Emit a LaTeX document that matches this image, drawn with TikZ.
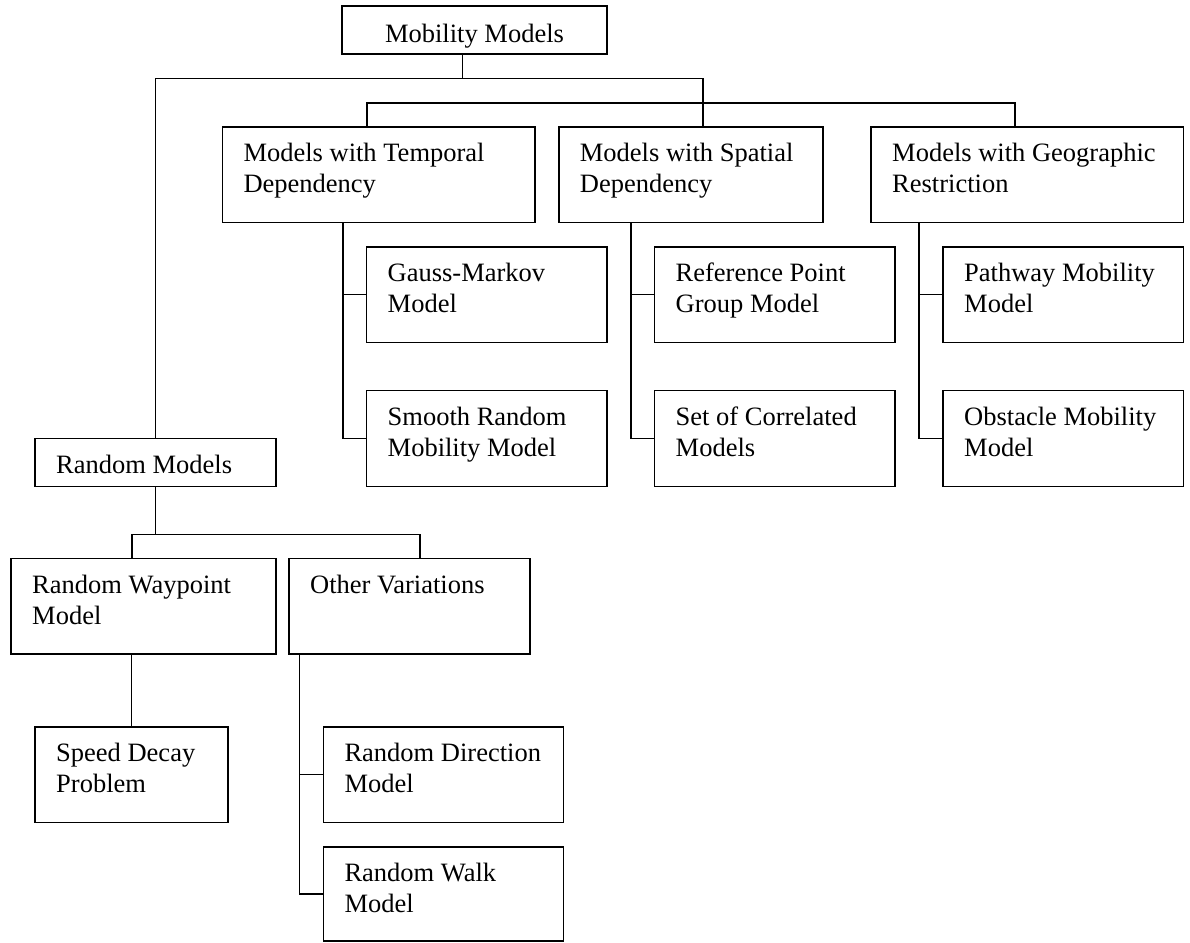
\documentclass[tikz,border=0pt]{standalone}
\usepackage{fontspec}
\setmainfont{Liberation Serif}

% Box drawn from its corners (x1,y1)-(x2,y2), with its caption set at the top left;
% the caption's base anchor is the baseline of its first line
\newcommand\modelbox[6]{%
  \node[box, minimum width={(#4-#2)*1pt}, minimum height={(#5-#3)*1pt}] (#1) at (#2,#3) {};
  \node[lbl] (#1-t) at ([shift={(21pt,-35pt)}]#1.north west)
    {\begin{tabular}[t]{@{}l@{}}#6\end{tabular}};}

\tikzset{
  box/.style={draw, rectangle, line width=1.6pt, inner sep=0pt, outer sep=0pt, anchor=north west},
  lbl/.style={font=\fontsize{26.5}{31}\selectfont, inner sep=0pt, anchor=base west},
  link/.style={line width=1.6pt},
}

\begin{document}
\begin{tikzpicture}[x=1pt,y=-1pt]
\useasboundingbox (0,0) rectangle (1190,942);
\fill[white] (0,0) rectangle (1190,942);

% root
\node[box, minimum width=265pt, minimum height=48pt] (mob) at (342,6) {};
\node[font=\fontsize{26.5}{31}\selectfont, inner sep=0pt, anchor=base] (mob-t)
  at ([yshift=-36pt]mob.north) {Mobility Models};

% dependency / restriction families
\modelbox{temp}{222.3}{126.7}{535}{222.3}{Models with Temporal\\Dependency}
\modelbox{spat}{558.7}{126.7}{823}{222.3}{Models with Spatial\\Dependency}
\modelbox{geo}{871}{126.7}{1183.3}{222.3}{Models with Geographic\\Restriction}

\modelbox{gauss}{366.5}{246.7}{607}{342.3}{Gauss-Markov\\Model}
\modelbox{smooth}{366.5}{390.5}{607}{486.3}{Smooth Random\\Mobility Model}
\modelbox{refpt}{654.5}{246.7}{895}{342.3}{Reference Point\\Group Model}
\modelbox{corr}{654.5}{390.5}{895}{486.3}{Set of Correlated\\Models}
\modelbox{path}{943}{246.7}{1183.3}{342.3}{Pathway Mobility\\Model}
\modelbox{obst}{943}{390.5}{1183.3}{486.3}{Obstacle Mobility\\Model}

% random family
\modelbox{rnd}{35}{438.3}{275.7}{486.3}{Random Models}
\modelbox{wp}{11}{558.5}{275.7}{654.2}{Random Waypoint\\Model}
\modelbox{other}{289}{558.5}{529.7}{654.2}{Other Variations}
\modelbox{speed}{35}{726.7}{227.7}{822.5}{Speed Decay\\Problem}
\modelbox{rdir}{323.3}{726.7}{563.3}{822.3}{Random Direction\\Model}
\modelbox{rwalk}{323.3}{846.7}{563.3}{940.8}{Random Walk\\Model}

% top rails
\coordinate (h1) at (462.3,78.3);
\coordinate (h1r) at (702.7,78.3);
\coordinate (h2l) at (366.7,102.7);
\coordinate (h2r) at (1015,102.7);
\draw[link] (mob.south -| h1) -- (h1);
\draw[link] (rnd.north) |- (h1r) -- (h1r |- spat.north);
\draw[link] (temp.north -| h2l) |- (h2r) -- (h2r |- geo.north);

% family branches
\coordinate (tv) at (342.7,0);
\coordinate (sv) at (631,0);
\coordinate (gv) at (919,0);
\draw[link] (temp.south -| tv) |- (smooth.west);
\draw[link] (gauss.west) -- (gauss.west -| tv);
\draw[link] (spat.south -| sv) |- (corr.west);
\draw[link] (refpt.west) -- (refpt.west -| sv);
\draw[link] (geo.south -| gv) |- (obst.west);
\draw[link] (path.west) -- (path.west -| gv);

% random branches
\coordinate (h3l) at (131.7,534.3);
\coordinate (h3r) at (419.7,534.3);
\coordinate (ov) at (299.3,0);
\draw[link] (rnd.south) -- (rnd.south |- h3l);
\draw[link] (wp.north -| h3l) |- (h3r) -- (h3r |- other.north);
\draw[link] (wp.south -| speed.north) -- (speed.north);
\draw[link] (other.south -| ov) |- (rwalk.west);
\draw[link] (rdir.west) -- (rdir.west -| ov);
\end{tikzpicture}
\end{document}
